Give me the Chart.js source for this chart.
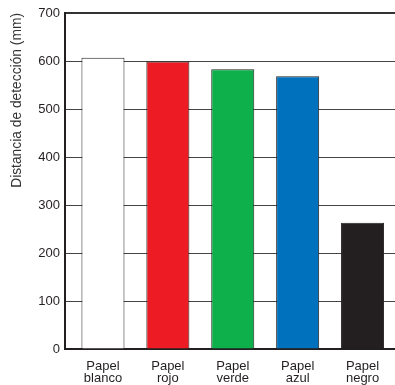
<!DOCTYPE html>
<html>
<head>
<meta charset="utf-8">
<script src="https://cdn.jsdelivr.net/npm/chart.js@4"></script>
<style>
  html, body { margin: 0; padding: 0; background: #fff; }
  #wrap { width: 395px; height: 385px; }
</style>
</head>
<body>
<div id="wrap"><canvas id="chart" width="395" height="385"></canvas></div>
<script>
// Data
const categories = [["Papel", "blanco"], ["Papel", "rojo"], ["Papel", "verde"], ["Papel", "azul"], ["Papel", "negro"]];
const distances = [607, 599, 583, 568, 263];
const yTicks = [0, 100, 200, 300, 400, 500, 600, 700];

const barColors = ["#ffffff", "#ed1c24", "#0db04b", "#0071bc", "#231f20"];
const ink = "#231f20";

const ctx = document.getElementById("chart").getContext("2d");

new Chart(ctx, {
  type: "bar",
  data: {
    datasets: [{
      data: distances.map((d, i) => ({ x: i, y: d })),
      backgroundColor: barColors,
      borderColor: "#222",
      borderWidth: 1,
      categoryPercentage: 1,
      barPercentage: 0.663
    }]
  },
  options: {
    responsive: false,
    animation: false,
    layout: { padding: { top: 13, right: 0, left: 0, bottom: 0 } },
    plugins: { legend: { display: false }, tooltip: { enabled: false } },
    scales: {
      x: {
        type: "linear",
        offset: false,
        min: -0.585,
        max: 4.5,
        afterBuildTicks: s => { s.ticks = categories.map((c, i) => ({ value: i })); },
        afterFit: s => { s.height = 36; },
        grid: { display: false, offset: false },
        border: { display: true, color: ink, width: 2 },
        ticks: {
          autoSkip: false,
          maxRotation: 0,
          padding: 3,
          color: ink,
          font: { family: "Liberation Sans", size: 13, lineHeight: 0.92 },
          callback: v => categories[v]
        }
      },
      y: {
        min: 0,
        max: 700,
        afterBuildTicks: s => { s.ticks = yTicks.map(v => ({ value: v })); },
        afterFit: s => { s.width = 65; },
        border: { display: true, color: ink, width: 2 },
        grid: {
          drawTicks: false,
          color: c => c.tick && c.tick.value === 700 ? "#333" : "#444",
          lineWidth: c => c.tick && c.tick.value === 700 ? 2 : 1
        },
        ticks: {
          padding: 5,
          color: ink,
          font: { family: "Liberation Sans", size: 13 }
        },
        title: {
          display: true,
          text: "Distancia de detección (mm)",
          align: "end",
          color: "#333",
          padding: { top: 9, bottom: 0 },
          font: { family: "Liberation Sans", size: 13.8 }
        }
      }
    }
  }
});
</script>
</body>
</html>
